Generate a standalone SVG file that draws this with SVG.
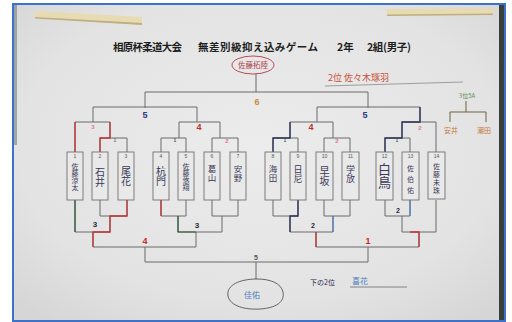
<svg xmlns="http://www.w3.org/2000/svg" width="512" height="322" viewBox="0 0 512 322">
<defs>
<radialGradient id="paper" cx="0.5" cy="0.45" r="0.7">
<stop offset="0" stop-color="#ececec"/>
<stop offset="0.7" stop-color="#e3e3e3"/>
<stop offset="1" stop-color="#d6d6d6"/>
</radialGradient>
<style>
.ln{fill:none;stroke:#6b6b6b;stroke-width:1}
.red{fill:none;stroke:#c03535;stroke-width:1.3}
.dk{fill:none;stroke:#2a3158;stroke-width:1.3}
.gr{fill:none;stroke:#2e5a3a;stroke-width:1.2}
.bl{fill:none;stroke:#4c7fc0;stroke-width:1.2}
.box{fill:#e9e9e9;stroke:#707070;stroke-width:0.9}
.num{font-family:"Liberation Sans",sans-serif;font-size:5px;fill:#555;text-anchor:middle}
.nm{font-family:"Noto Sans CJK JP",sans-serif;fill:#3a3a58;writing-mode:vertical-rl;text-anchor:start}
.lab{font-family:"Liberation Sans",sans-serif;text-anchor:middle;font-weight:bold}
.hw{font-family:"Noto Sans CJK JP",sans-serif}
</style>
</defs>
<rect width="512" height="322" fill="#ffffff"/>
<rect x="13" y="4" width="492" height="317" fill="url(#paper)"/>
<rect x="499" y="5" width="5" height="315" fill="#3a3f3a"/>
<rect x="13" y="5" width="4" height="140" fill="#5a6a7a" opacity="0.5"/>
<rect x="13" y="4" width="492" height="317" fill="none" stroke="#3d72cc" stroke-width="2"/>
<g id="tapes">
<polygon points="35,11 142,17 142,25 35,18" fill="#e6dbb2"/>
<polygon points="35,17 142,23 142,25 35,18.5" fill="#bfae82"/>
<polygon points="387,9 493,8 493,15 387,16" fill="#e6dbb2"/>
<polygon points="387,14.5 493,13.5 493,15 387,16" fill="#bfae82"/>
</g>
<g id="title" font-family="'Noto Sans CJK JP',sans-serif" font-size="10.5" font-weight="bold" fill="#1e1e1e">
<text x="113" y="51" textLength="69">相原杯柔道大会</text>
<text x="198" y="51" textLength="120">無差別級抑え込みゲーム</text>
<text x="337" y="51">2年</text>
<text x="367" y="51" textLength="44">2組(男子)</text>
</g>
<g id="connectors">
<path class="ln" d="M256,74 V92 M145,108 V92 H368 V108 M93,122 V107 H197 V122 M75,152 V122 H110 V138 M100,152 V138 H127 V152 M179,138 V122 H220 V138 M161,152 V138 H186 V152 M212,152 V138 H238 V152 M317,122 V107 H420 V122 M290,138 V122 H333 V138 M273,152 V138 H298 V152 M324,152 V138 H350 V152 M402,138 V122 H436 V152 M385,152 V138 H410 V152"/>
<path class="ln" d="M75,200 V232 H110 V216 M100,200 V216 H127 V200 M93,232 V247 H196 V232 M178,216 V232 H222 V216 M161,200 V216 H186 V200 M212,200 V216 H238 V200 M145,247 V262 H368 V247 M256,262 V279 M316,247 H419 V232 M290,216 V232 H333 V216 M316,232 V247 M273,200 V216 H298 V200 M324,200 V216 H350 V200 M402,216 V232 H436 V200 M385,200 V216 H410 V200"/>
<path class="red" d="M75,152 V122 M100,152 V138 H110 V122"/>
<path class="dk" d="M273,152 V138 H290 V122 M385,152 V138 H402 V122 H420 V107"/>
<path class="gr" d="M75,200 V232"/>
<path class="red" d="M127,200 V216 H110 V232 H93 V247 M161,200 V216 M316,232 V247 M410,232 H419 V247"/>
<path class="gr" d="M178,216 V232 H196"/>
<path class="dk" d="M298,200 V216 H290 V232"/>
<path class="bl" d="M333,216 V232 M410,200 V216"/>
<path d="M466,101 V112 M450,122 V112 H486 V122" fill="none" stroke="#6e6440" stroke-width="1"/>
<path d="M325,86 L463,82" fill="none" stroke="#8a8a8a" stroke-width="0.8"/>
<path d="M350,287 H407" fill="none" stroke="#6a6a6a" stroke-width="0.8"/>
</g>
<g id="labels">
<text class="lab" x="257" y="105" font-size="9" fill="#d08a3a">6</text>
<text class="lab" x="145" y="118" font-size="9" fill="#2a3a8a">5</text>
<text class="lab" x="365" y="118" font-size="9" fill="#2a3a8a">5</text>
<text class="lab" x="93" y="129" font-size="6" fill="#e07a8a">3</text>
<text class="lab" x="115" y="142" font-size="5" fill="#777">1</text>
<text class="lab" x="199" y="130" font-size="9" fill="#c82a2a">4</text>
<text class="lab" x="175" y="142" font-size="5" fill="#555">1</text>
<text class="lab" x="227" y="143" font-size="6" fill="#e07a8a">2</text>
<text class="lab" x="311" y="130" font-size="9" fill="#c82a2a">4</text>
<text class="lab" x="285" y="142" font-size="5" fill="#555">1</text>
<text class="lab" x="337" y="143" font-size="6" fill="#e07a8a">2</text>
<text class="lab" x="397" y="142" font-size="5" fill="#555">1</text>
<text class="lab" x="420" y="130" font-size="6" fill="#e07a8a">2</text>
<text class="lab" x="95" y="227" font-size="8" fill="#2a2a3a">3</text>
<text class="lab" x="197" y="228" font-size="8" fill="#2a2a3a">3</text>
<text class="lab" x="145" y="244" font-size="9" fill="#c82a2a">4</text>
<text class="lab" x="313" y="228" font-size="7" fill="#2a2a3a">2</text>
<text class="lab" x="398" y="213" font-size="7" fill="#2a2a3a">2</text>
<text class="lab" x="368" y="244" font-size="9" fill="#c82a2a">1</text>
<text class="lab" x="256" y="260" font-size="7" fill="#555" font-weight="normal">5</text>
</g>
<g id="winner">
<ellipse cx="253" cy="65" rx="21" ry="9" fill="none" stroke="#b03a48" stroke-width="0.9"/>
<text class="hw" x="253" y="68" font-size="7.5" fill="#b03a48" text-anchor="middle">佐藤拓陸</text>
</g>
<g id="second">
<text class="hw" x="328" y="81" font-size="9" fill="#c8503a">2位 佐々木琢羽</text>
</g>
<g id="third">
<text class="hw" x="467" y="98" font-size="6" fill="#5a8a5a" text-anchor="middle">3位5A</text>
<text class="hw" x="451" y="133" font-size="7" fill="#c87a3a" text-anchor="middle">安井</text>
<text class="hw" x="484" y="133" font-size="7" fill="#c87a3a" text-anchor="middle">潮田</text>
</g>
<g id="bottomwinner">
<path d="M257,279 C240,279 226,285 228,296 C230,306 245,310 260,309 C276,308 285,302 283,292 C281,283 270,279 257,279 Z" fill="none" stroke="#555" stroke-width="0.9"/>
<text class="hw" x="252" y="298" font-size="8" fill="#4a7ac0" text-anchor="middle">佳佑</text>
</g>
<g id="lower2nd">
<text class="hw" x="310" y="285" font-size="7" fill="#2a2a4a">下の2位</text>
<text class="hw" x="352" y="284" font-size="8" fill="#4a7ac0">喜花</text>
</g>
<g id="n1"><rect class="box" x="67" y="152" width="16" height="48"/><text class="num" x="75" y="158">1</text><text class="nm" x="75" y="163" font-size="7">佐藤涼太</text></g>
<g id="n2"><rect class="box" x="92" y="152" width="16" height="48"/><text class="num" x="100" y="158">2</text><text class="nm" x="100" y="167" font-size="10">石井</text></g>
<g id="n3"><rect class="box" x="118" y="152" width="16" height="48"/><text class="num" x="126" y="158">3</text><text class="nm" x="126" y="166" font-size="10">尾花</text></g>
<g id="n4"><rect class="box" x="153" y="152" width="16" height="48"/><text class="num" x="161" y="158">4</text><text class="nm" x="161" y="166" font-size="10">杭門</text></g>
<g id="n5"><rect class="box" x="178" y="152" width="16" height="48"/><text class="num" x="186" y="158">5</text><text class="nm" x="186" y="163" font-size="7">佐藤悠翔</text></g>
<g id="n6"><rect class="box" x="204" y="152" width="16" height="48"/><text class="num" x="212" y="158">6</text><text class="nm" x="212" y="165" font-size="8.5" fill="#3a2060">葛山</text></g>
<g id="n7"><rect class="box" x="230" y="152" width="16" height="48"/><text class="num" x="238" y="158">7</text><text class="nm" x="238" y="165" font-size="8.5">安野</text></g>
<g id="n8"><rect class="box" x="265" y="152" width="16" height="48"/><text class="num" x="273" y="158">8</text><text class="nm" x="273" y="165" font-size="8.5">海田</text></g>
<g id="n9"><rect class="box" x="290" y="152" width="16" height="48"/><text class="num" x="298" y="158">9</text><text class="nm" x="298" y="165" font-size="9">日尼</text></g>
<g id="n10"><rect class="box" x="316" y="152" width="17" height="48"/><text class="num" x="324.5" y="158">10</text><text class="nm" x="324.5" y="166" font-size="10" fill="#5a9ccc">早坂</text></g>
<g id="n11"><rect class="box" x="342" y="152" width="17" height="48"/><text class="num" x="350.5" y="158">11</text><text class="nm" x="350.5" y="165" font-size="9">学放</text></g>
<g id="n12"><rect class="box" x="376" y="152" width="17" height="48"/><text class="num" x="384.5" y="158">12</text><text class="nm" x="384.5" y="163" font-size="13">白鳥</text></g>
<g id="n13"><rect class="box" x="402" y="152" width="17" height="48"/><text class="num" x="410.5" y="158">13</text><text class="nm" x="410.5" y="165" font-size="7" letter-spacing="4">佐伯佑</text></g>
<g id="n14"><rect class="box" x="428" y="152" width="17" height="47"/><text class="num" x="436.5" y="158">14</text><text class="nm" x="436.5" y="163" font-size="7" letter-spacing="1">佐藤未珠</text></g>
</svg>
